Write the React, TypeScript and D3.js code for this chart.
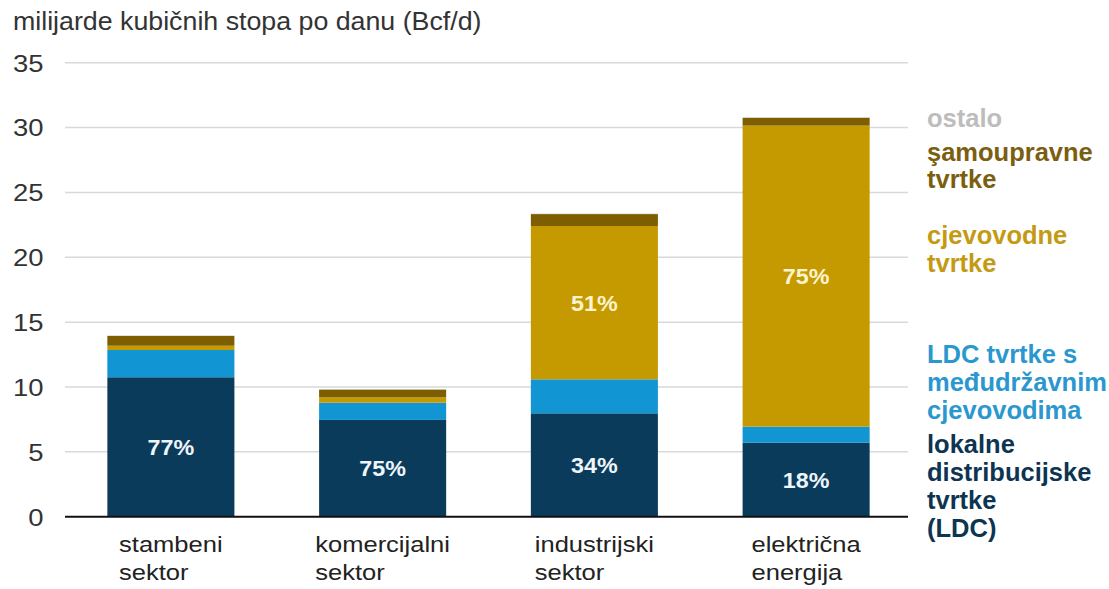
import React, { useEffect, useRef } from "react";
import * as d3 from "d3";

// ---- data ----
const categories = ["stambeni sektor", "komercijalni sektor", "industrijski sektor", "električna energija"];
const categoryLines = [
  ["stambeni", "sektor"],
  ["komercijalni", "sektor"],
  ["industrijski", "sektor"],
  ["električna", "energija"],
];
const ldc = [10.75, 7.46, 7.97, 5.71];
const ldcInterstate = [2.1, 1.33, 2.62, 1.23];
const pipeline = [0.33, 0.41, 11.82, 23.21];
const intrastate = [0.76, 0.6, 0.92, 0.6];
const other = [0.02, 0.02, 0.03, 0.04];
const ldcPct = ["77%", "75%", "34%", "18%"];
const pipelinePct = ["", "", "51%", "75%"];
const yTicks = [0, 5, 10, 15, 20, 25, 30, 35];
const title = "milijarde kubičnih stopa po danu (Bcf/d)";

const seriesKeys = ["ldc", "ldcInterstate", "pipeline", "intrastate", "other"];
const seriesColors: Record<string, string> = {
  ldc: "#0b3b5b",
  ldcInterstate: "#1195d3",
  pipeline: "#c59a00",
  intrastate: "#7d5e00",
  other: "#c8c8c8",
};

const legendItems = [
  { lines: ["ostalo"], color: "#bdbdbd", ys: [126.7] },
  { lines: ["şamoupravne", "tvrtke"], color: "#7b5e10", ys: [160.7, 187.7] },
  { lines: ["cjevovodne", "tvrtke"], color: "#c49a14", ys: [244.3, 271.7] },
  { lines: ["LDC tvrtke s", "međudržavnim", "cjevovodima"], color: "#2a98cf", ys: [363.3, 391.3, 419.3] },
  { lines: ["lokalne", "distribucijske", "tvrtke", "(LDC)"], color: "#0d3552", ys: [453.3, 481.3, 509.3, 537.3] },
];

const W = 1109;
const H = 589;
const FONT = "'Liberation Sans', Arial, sans-serif";

export default function App() {
  const ref = useRef<SVGSVGElement | null>(null);

  useEffect(() => {
    const svg = d3.select(ref.current);
    svg.selectAll("*").remove();

    const table = categories.map((c, i) => ({
      cat: c,
      ldc: ldc[i],
      ldcInterstate: ldcInterstate[i],
      pipeline: pipeline[i],
      intrastate: intrastate[i],
      other: other[i],
    }));

    const x = d3.scaleBand<string>().domain(categories).range([65, 912]).paddingInner(0.4).paddingOuter(0.2);
    const y = d3.scaleLinear().domain([0, 35]).range([516.7, 62.7]);

    // title
    svg
      .append("text")
      .attr("transform", "translate(13,30) scale(1.05,1)")
      .attr("font-family", FONT)
      .attr("font-size", 25.5)
      .attr("fill", "#333")
      .text(title);

    // gridlines
    svg
      .append("g")
      .selectAll("line")
      .data(yTicks.filter((t) => t !== 0))
      .join("line")
      .attr("x1", 65)
      .attr("x2", 908)
      .attr("y1", (d) => y(d))
      .attr("y2", (d) => y(d))
      .attr("stroke", "#d9d9d9")
      .attr("stroke-width", 1.5);

    // y tick labels
    svg
      .append("g")
      .selectAll("text")
      .data(yTicks)
      .join("text")
      .attr("transform", (d) => `translate(43.5,${y(d) + 8.8}) scale(1.12,1)`)
      .attr("text-anchor", "end")
      .attr("font-family", FONT)
      .attr("font-size", 24.5)
      .attr("fill", "#333")
      .text((d) => String(d));

    // stacked bars
    const stacked = d3.stack<any>().keys(seriesKeys)(table);
    const g = svg.append("g");
    stacked.forEach((layer) => {
      g.append("g")
        .attr("fill", seriesColors[layer.key])
        .selectAll("rect")
        .data(layer)
        .join("rect")
        .attr("x", (d: any) => x(d.data.cat)!)
        .attr("width", x.bandwidth())
        .attr("y", (d: any) => y(d[1]))
        .attr("height", (d: any) => Math.max(0, y(d[0]) - y(d[1])));
    });

    // zero axis
    svg
      .append("line")
      .attr("x1", 65)
      .attr("x2", 908)
      .attr("y1", y(0))
      .attr("y2", y(0))
      .attr("stroke", "#111")
      .attr("stroke-width", 2);

    // percent labels
    const ldcLayer = stacked[0];
    const pipeLayer = stacked[2];
    const pctG = svg.append("g").attr("font-family", FONT).attr("font-weight", "bold").attr("font-size", 22);
    ldcLayer.forEach((d: any, i) => {
      const cx = x(d.data.cat)! + x.bandwidth() / 2;
      const cy = (y(d[0]) + y(d[1])) / 2;
      pctG
        .append("text")
        .attr("transform", `translate(${cx},${cy + 8}) scale(1.06,1)`)
        .attr("text-anchor", "middle")
        .attr("fill", "#eef5fb")
        .text(ldcPct[i]);
    });
    pipeLayer.forEach((d: any, i) => {
      if (!pipelinePct[i]) return;
      const cx = x(d.data.cat)! + x.bandwidth() / 2;
      const cy = (y(d[0]) + y(d[1])) / 2;
      pctG
        .append("text")
        .attr("transform", `translate(${cx},${cy + 8}) scale(1.06,1)`)
        .attr("text-anchor", "middle")
        .attr("fill", "#fdf3cf")
        .text(pipelinePct[i]);
    });

    // category labels
    const SX = 1.16;
    const catG = svg.append("g");
    categories.forEach((c, i) => {
      const lines = categoryLines[i];
      const tmp = catG
        .append("g")
        .attr("font-family", FONT)
        .attr("font-size", 22)
        .attr("fill", "#222");
      const texts = lines.map((ln, k) =>
        tmp
          .append("text")
          .attr("y", 551.7 + k * 28.3)
          .text(ln)
      );
      const maxW = d3.max(texts, (t) => (t.node() as SVGTextElement).getComputedTextLength()) || 0;
      const cx = x(c)! + x.bandwidth() / 2;
      const left = cx - (maxW * SX) / 2;
      tmp.attr("transform", `translate(${left},0) scale(${SX},1)`);
    });

    // legend
    const lg = svg.append("g").attr("font-family", FONT).attr("font-weight", "bold").attr("font-size", 25);
    legendItems.forEach((item) => {
      item.lines.forEach((ln, k) => {
        lg.append("text")
          .attr("transform", `translate(927,${item.ys[k]}) scale(1.02,1)`)
          .attr("fill", item.color)
          .text(ln);
      });
    });
  }, []);

  return (
    <svg
      ref={ref}
      width={W}
      height={H}
      style={{ position: "absolute", left: 0, top: 0, background: "#fff" }}
    />
  );
}
